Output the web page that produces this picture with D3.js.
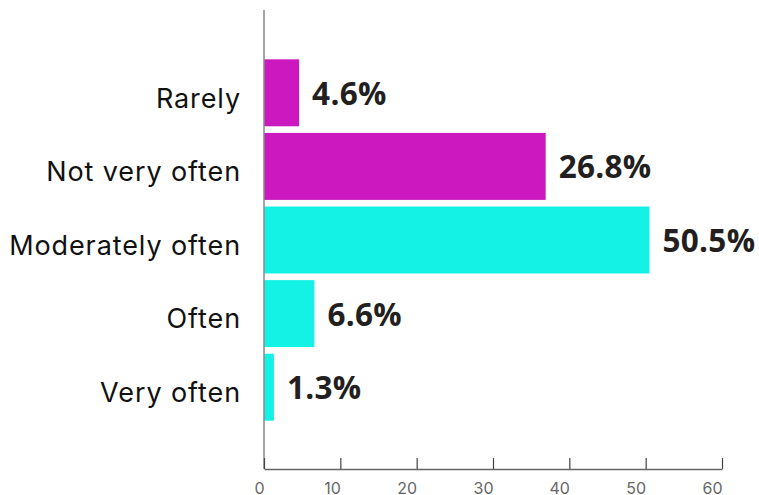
<!DOCTYPE html>
<html>
<head>
<meta charset="utf-8">
<script src="https://cdn.jsdelivr.net/npm/d3@7"></script>
<style>
  body { margin: 0; background: #fff; }
  svg { display: block; }
</style>
</head>
<body>
<svg></svg>
<script>
var categories = ["Rarely", "Not very often", "Moderately often", "Often", "Very often"];
// bar lengths as drawn in the picture
var values = [4.6, 36.9, 50.5, 6.6, 1.3];
// value labels as printed next to the bars
var valueLabels = ["4.6%", "26.8%", "50.5%", "6.6%", "1.3%"];
var groups = ["low", "low", "high", "high", "high"];
var xTicks = [0, 10, 20, 30, 40, 50, 60];

var width = 759;
var height = 495;
var svg = d3.select("svg").attr("width", width).attr("height", height);

var margin = {top: 10, left: 264, right: 37, bottom: 26};

var xScale = d3.scaleLinear().domain([0, 60]).range([264, 722]);
var yScale = d3.scaleBand().domain(categories)
    .range([56, 424]).paddingInner(0.09).paddingOuter(0.045);

var color = d3.scaleOrdinal().domain(["low", "high"]).range(["#cc19bf", "#14f2e6"]);

// bars
svg.append("g")
  .selectAll("rect")
  .data(categories)
  .enter().append("rect")
    .attr("x", xScale(0))
    .attr("y", function(d) { return yScale(d); })
    .attr("width", function(d, i) { return xScale(values[i]) - xScale(0); })
    .attr("height", yScale.bandwidth())
    .attr("fill", function(d, i) { return color(groups[i]); });

// value labels
svg.append("g")
  .selectAll("text")
  .data(categories)
  .enter().append("text")
    .attr("x", function(d, i) { return xScale(values[i]) + 13; })
    .attr("y", function(d) { return yScale(d) + yScale.bandwidth() / 2; })
    .attr("dy", "0.38em")
    .style("font-family", "'Open Sans', sans-serif")
    .style("font-weight", "bold")
    .style("font-size", "31.5px")
    .style("letter-spacing", "0.3px")
    .attr("fill", "#231f20")
    .text(function(d, i) { return valueLabels[i]; });

// category labels
svg.append("g")
  .selectAll("text")
  .data(categories)
  .enter().append("text")
    .attr("x", 241)
    .attr("y", function(d) { return yScale(d) + yScale.bandwidth() / 2 + 5; })
    .attr("dy", "0.36em")
    .attr("text-anchor", "end")
    .style("font-family", "Inter, sans-serif")
    .style("font-size", "27px")
    .style("letter-spacing", "0.9px")
    .attr("fill", "#111")
    .text(function(d) { return d; });

// y axis line
svg.append("line")
  .attr("x1", xScale(0)).attr("x2", xScale(0))
  .attr("y1", margin.top).attr("y2", 469)
  .attr("stroke", "#8a8a8a").attr("stroke-width", 1.5);

// x axis
var xAxis = d3.axisBottom(xScale).tickValues(xTicks).tickSizeInner(-11).tickSizeOuter(0).tickPadding(14);
var gx = svg.append("g")
  .attr("transform", "translate(0,469)")
  .call(xAxis);
gx.select(".domain").attr("stroke", "#666").attr("stroke-width", 1.5);
gx.selectAll(".tick line").attr("stroke", "#444").attr("stroke-width", 1.2);
gx.selectAll(".tick text")
  .attr("text-anchor", "end")
  .attr("x", 0)
  .style("font-family", "Inter, sans-serif")
  .style("font-size", "16px")
  .attr("fill", "#666");
</script>
</body>
</html>
